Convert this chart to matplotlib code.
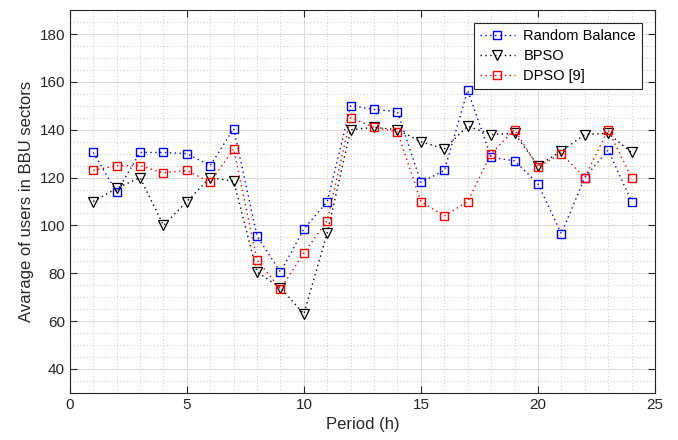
import numpy as np
import matplotlib
matplotlib.use('Agg')
import matplotlib.pyplot as plt
from matplotlib.ticker import MultipleLocator

plt.rcParams['font.family'] = ['Liberation Sans', 'DejaVu Sans']

period = np.arange(1, 25)
random_balance = [130.5, 114, 130.5, 130.5, 130, 125, 140.5, 95.5, 80.5, 98.5, 110, 150,
                  148.5, 147.5, 118, 123, 156.5, 128.5, 127, 117.5, 96.5, 120, 131.5, 110]
bpso = [110, 115.5, 120, 100, 110, 120, 118.5, 80.5, 74, 63, 97, 140,
        141, 140, 135, 132, 141.5, 138, 138.5, 125, 131, 138, 138.5, 130.5]
dpso = [123, 125, 125, 122, 123, 118, 132, 85.5, 73.5, 88.5, 102, 145,
        141, 139, 110, 104, 110, 130, 140, 124.5, 130, 120, 140, 120]

fig = plt.figure(figsize=(6.78, 4.4), dpi=100)
ax = fig.add_axes([0.103, 0.107, 0.863, 0.870])

dots = (0, (1, 2.5))
ax.plot(period, random_balance, ls=dots, color='b', marker='s', mfc='none', ms=5.5, mew=1.0,
        lw=1.0, label='Random Balance')
ax.plot(period, bpso, ls=dots, color='k', marker='v', mfc='none', ms=6.5, mew=0.9,
        lw=1.0, label='BPSO')
ax.plot(period, dpso, ls=dots, color='r', marker='s', mfc='none', ms=5.5, mew=1.0,
        lw=1.0, label='DPSO [9]')

ax.set_xlim(0, 25)
ax.set_ylim(30, 190)
ax.xaxis.set_major_locator(MultipleLocator(5))
ax.xaxis.set_minor_locator(MultipleLocator(1))
ax.yaxis.set_minor_locator(MultipleLocator(5))
ax.set_yticks(np.arange(40, 190, 20))

ax.grid(True, which='major', color='#dcdcdc', lw=0.8, ls='-')
ax.grid(True, which='minor', color='#bbbbbb', lw=0.6, ls=(0, (1, 3)))
ax.set_axisbelow(True)

ax.tick_params(which='both', direction='in', top=True, right=True, labelsize=11, colors='#262626')
ax.tick_params(which='major', length=5)
ax.tick_params(which='minor', length=0)
for s in ax.spines.values():
    s.set_color('#262626')

ax.set_xlabel('Period (h)', fontsize=12, color='#262626')
ax.set_ylabel('Avarage of users in BBU sectors', fontsize=12, color='#262626')

leg = ax.legend(loc='upper right', fontsize=10.5, fancybox=False, framealpha=1,
                edgecolor='#262626', borderaxespad=0.9, handlelength=2.4,
                labelspacing=0.4, borderpad=0.4, handletextpad=0.6)
leg.get_frame().set_linewidth(0.8)

fig.savefig('out.png', dpi=100)
